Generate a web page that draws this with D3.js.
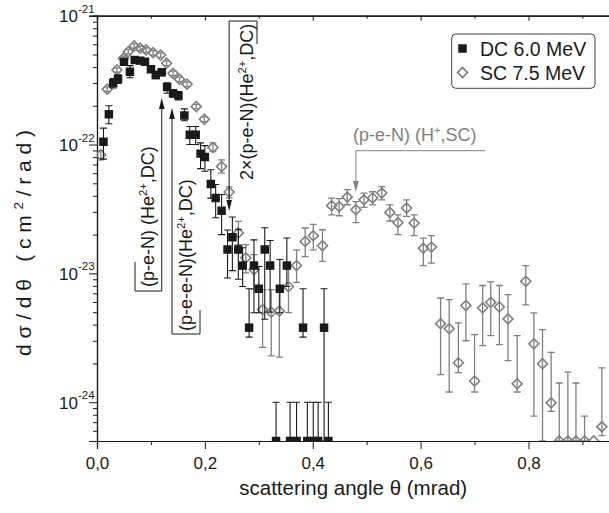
<!DOCTYPE html>
<html>
<head>
<meta charset="utf-8">
<script src="https://cdn.jsdelivr.net/npm/d3@7"></script>
<style>
  body { margin: 0; background: #fff; }
  svg { display: block; font-family: "Liberation Sans", Arial, Helvetica, sans-serif; }
</style>
</head>
<body>
<svg id="chart" width="609" height="513"></svg>
<script>
// ---- DC 6.0 MeV (He2+) : angle (mrad), dσ/dθ, error-bar low, error-bar high ----
const dcTheta = [0.012, 0.022, 0.030, 0.039, 0.050, 0.061, 0.070, 0.080, 0.089, 0.100,
                 0.109, 0.120, 0.130, 0.141, 0.151, 0.162, 0.172, 0.183, 0.192, 0.200,
                 0.211, 0.220, 0.231, 0.242, 0.251, 0.262, 0.270, 0.282, 0.291, 0.300,
                 0.311, 0.321, 0.332, 0.339, 0.352, 0.358, 0.370, 0.382, 0.390, 0.401,
                 0.410, 0.421, 0.429];
const dcValue = [1.05e-22, 1.72e-22, 2.99e-22, 3.23e-22, 4.40e-22, 3.68e-22, 4.54e-22, 4.48e-22, 4.40e-22, 3.84e-22,
                 3.47e-22, 3.64e-22, 2.79e-22, 2.50e-22, 2.40e-22, 1.68e-22, 1.19e-22, 1.19e-22, 8.5e-23, 8.0e-23,
                 4.95e-23, 3.84e-23, 3.06e-23, 1.53e-23, 1.91e-23, 1.53e-23, 1.15e-23, 3.79e-24, 1.15e-23, 7.6e-24,
                 1.53e-23, 1.15e-23, 0, 7.6e-24, 1.15e-23, 0, 0, 3.79e-24, 0, 0,
                 0, 3.79e-24, 0];
const dcLow   = [7.7e-23, 1.45e-22, 2.75e-22, 2.98e-22, 4.15e-22, 3.3e-22, 4.3e-22, 4.25e-22, 4.17e-22, 3.62e-22,
                 3.25e-22, 3.42e-22, 2.5e-22, 2.33e-22, 2.22e-22, 1.53e-22, 1.0e-22, 1.0e-22, 6.5e-23, 6.2e-23,
                 3.84e-23, 2.7e-23, 2.0e-23, 9.2e-24, 1.05e-23, 9.0e-24, 7.9e-24, 3.2e-24, 4.95e-24, 4.95e-24,
                 4.4e-24, 5.0e-24, 0, 4.95e-24, 7.9e-24, 0, 0, 3.2e-24, 0, 0,
                 0, 0, 0];
const dcHigh  = [1.34e-22, 2.0e-22, 3.25e-22, 3.48e-22, 4.65e-22, 4.1e-22, 4.8e-22, 4.72e-22, 4.63e-22, 4.06e-22,
                 3.7e-22, 3.86e-22, 3.02e-22, 2.67e-22, 2.58e-22, 1.89e-22, 1.38e-22, 1.38e-22, 1.03e-22, 9.8e-23,
                 6.37e-23, 4.9e-23, 4.1e-23, 2.17e-23, 2.74e-23, 2.2e-23, 1.58e-23, 7.6e-24, 1.82e-23, 1.13e-23,
                 2.26e-23, 1.8e-23, 1.0e-24, 1.28e-23, 1.88e-23, 1.0e-24, 1.0e-24, 7.6e-24, 1.0e-24, 1.0e-24,
                 1.0e-24, 7.6e-24, 1.0e-24];

// ---- SC 7.5 MeV (H+) ----
const scTheta = [0.007, 0.019, 0.037, 0.049, 0.058, 0.069, 0.080, 0.091, 0.104, 0.118,
                 0.129, 0.141, 0.153, 0.167, 0.184, 0.199, 0.215, 0.231, 0.245, 0.262,
                 0.276, 0.291, 0.307, 0.323, 0.338, 0.355, 0.370, 0.386, 0.401, 0.418,
                 0.435, 0.449, 0.464, 0.480, 0.495, 0.511, 0.528, 0.543, 0.558, 0.574,
                 0.588, 0.605, 0.620, 0.637, 0.653, 0.670, 0.684, 0.700, 0.715, 0.730,
                 0.746, 0.762, 0.779, 0.795, 0.810, 0.826, 0.842, 0.857, 0.873, 0.888,
                 0.904, 0.921, 0.936];
const scValue = [8.3e-23, 2.69e-22, 3.79e-22, 4.67e-22, 5.26e-22, 5.82e-22, 5.59e-22, 5.42e-22, 5.16e-22, 4.95e-22,
                 4.28e-22, 3.57e-22, 3.21e-22, 2.94e-22, 1.97e-22, 1.57e-22, 9.5e-23, 6.75e-23, 4.28e-23, 2.06e-23,
                 1.32e-23, 1.07e-23, 5.24e-24, 5.0e-24, 5.1e-24, 7.9e-24, 1.15e-23, 1.77e-23, 1.96e-23, 1.64e-23,
                 3.35e-23, 3.3e-23, 3.91e-23, 3.12e-23, 3.72e-23, 3.84e-23, 4.2e-23, 2.97e-23, 2.48e-23, 3.21e-23,
                 2.46e-23, 1.57e-23, 1.6e-23, 4.07e-24, 3.72e-24, 2.02e-24, 5.62e-24, 1.46e-24, 5.4e-24, 5.96e-24,
                 5.49e-24, 4.43e-24, 1.39e-24, 8.67e-24, 2.84e-24, 1.99e-24, 9.9e-25, 0, 0, 0,
                 0, 0, 6.45e-25];
const scLow   = [7.6e-23, 2.58e-22, 3.64e-22, 4.48e-22, 5.05e-22, 5.59e-22, 5.37e-22, 5.2e-22, 4.95e-22, 4.75e-22,
                 4.1e-22, 3.42e-22, 3.08e-22, 2.82e-22, 1.89e-22, 1.5e-22, 8.8e-23, 6.0e-23, 3.85e-23, 1.67e-23,
                 1.01e-23, 7.5e-24, 2.66e-24, 2.29e-24, 2.24e-24, 4.95e-24, 8.5e-24, 1.35e-23, 1.52e-23, 1.24e-23,
                 2.85e-23, 2.8e-23, 3.41e-23, 2.48e-23, 3.25e-23, 3.4e-23, 3.72e-23, 2.55e-23, 2.0e-23, 2.77e-23,
                 1.96e-23, 1.15e-23, 1.2e-23, 1.64e-24, 1.2e-24, 1.7e-24, 3.0e-24, 1.2e-24, 2.75e-24, 3.29e-24,
                 2.8e-24, 2.1e-24, 1.2e-24, 5.7e-24, 7.8e-25, 0, 8.5e-25, 0, 0, 0,
                 0, 0, 5.5e-25];
const scHigh  = [9.0e-23, 2.8e-22, 3.94e-22, 4.86e-22, 5.47e-22, 6.05e-22, 5.81e-22, 5.64e-22, 5.37e-22, 5.15e-22,
                 4.46e-22, 3.72e-22, 3.34e-22, 3.06e-22, 2.05e-22, 1.64e-22, 1.03e-22, 7.6e-23, 4.7e-23, 2.53e-23,
                 1.67e-23, 1.4e-23, 7.48e-24, 7.48e-24, 7.48e-24, 1.13e-23, 1.52e-23, 2.25e-23, 2.4e-23, 2.18e-23,
                 3.84e-23, 3.8e-23, 4.46e-23, 3.61e-23, 4.2e-23, 4.3e-23, 4.72e-23, 3.4e-23, 2.85e-23, 3.72e-23,
                 2.85e-23, 1.88e-23, 1.96e-23, 6.44e-24, 6.26e-24, 4.13e-24, 8.28e-24, 3.35e-24, 8.05e-24, 8.6e-24,
                 8.05e-24, 6.84e-24, 3.29e-24, 1.15e-23, 4.93e-24, 3.66e-24, 2.44e-24, 1.41e-24, 1.71e-24, 1.41e-24,
                 7.8e-25, 0, 1.85e-24];

// ---- axis ticks and labels ----
const xMajorTicks = [0, 0.2, 0.4, 0.6, 0.8];
const xMinorTicks = [0.1, 0.3, 0.5, 0.7, 0.9];
const yDecades = [-21, -22, -23, -24];
const seriesNames = ["DC 6.0 MeV", "SC 7.5 MeV"];
const xTitle = "scattering angle θ (mrad)";

const BLACK = "#1a1a1a", GREY = "#808080";

const svg = d3.select("#chart");
const x = d3.scaleLinear().domain([0, 0.95]).range([97, 609.4]);
const y = d3.scaleLog().domain([5e-25, 1e-21]).range([441, 15.7]);
const yFloor = y.domain()[0];
const yv = v => y(Math.max(v, yFloor));

const [x0, x1] = x.range();
const [yB, yT] = y.range();

svg.append("defs").append("clipPath").attr("id", "plotClip")
  .append("rect").attr("x", x0).attr("y", yT).attr("width", x1 - x0).attr("height", yB - yT);

// ---- axes ----
const fmtComma = d => d3.format(".1f")(d).replace(".", ",");

const gxb = svg.append("g").attr("transform", `translate(0,${yB})`)
  .call(d3.axisBottom(x).tickValues(xMajorTicks).tickSize(8).tickFormat(fmtComma));
gxb.selectAll("text").attr("y", 28).attr("dy", 0).attr("font-size", 17).attr("fill", BLACK)
  .attr("font-family", "Liberation Sans, Arial, sans-serif");
svg.append("g").attr("transform", `translate(0,${yB})`)
  .call(d3.axisBottom(x).tickValues(xMinorTicks).tickSize(4).tickFormat(""));

svg.append("g").attr("transform", `translate(0,${yT})`)
  .call(d3.axisTop(x).tickValues(xMajorTicks).tickSize(-5).tickFormat(""));
svg.append("g").attr("transform", `translate(0,${yT})`)
  .call(d3.axisTop(x).tickValues(xMinorTicks).tickSize(-3).tickFormat(""));

const yMajor = yDecades.map(e => Math.pow(10, e));
const yMinor = [];
yDecades.concat([-25]).forEach(e => {
  for (let m = 2; m <= 9; m++) {
    const v = m * Math.pow(10, e);
    if (v >= yFloor && v < 1e-21) yMinor.push(v);
  }
});

svg.append("g").attr("transform", `translate(${x0},0)`)
  .call(d3.axisLeft(y).tickValues(yMajor).tickSize(8).tickFormat(""));
svg.append("g").attr("transform", `translate(${x0},0)`)
  .call(d3.axisLeft(y).tickValues(yMinor).tickSize(4).tickFormat(""));

yDecades.forEach(e => {
  svg.append("text")
    .attr("x", x0 - 6 - 13).attr("y", y(Math.pow(10, e)) + 6.5)
    .attr("text-anchor", "end").attr("font-size", 17).attr("fill", BLACK).text("10");
  svg.append("text")
    .attr("x", x0 - 6 - 13).attr("y", y(Math.pow(10, e)) - 3)
    .attr("text-anchor", "start").attr("font-size", 11.5).attr("fill", BLACK)
    .text("-" + Math.abs(e));
});

svg.selectAll(".domain").attr("stroke", BLACK).attr("stroke-width", 1.2);
svg.selectAll(".tick line").attr("stroke", BLACK).attr("stroke-width", 1);

// axis titles
svg.append("text").attr("x", (x0 + x1) / 2).attr("y", 495)
  .attr("text-anchor", "middle").attr("font-size", 20.5).attr("fill", BLACK).text(xTitle);

const yt = svg.append("text").attr("transform", `translate(31,356) rotate(-90)`)
  .attr("text-anchor", "start").attr("font-size", 21).attr("fill", BLACK)
  .attr("textLength", 226).attr("lengthAdjust", "spacing");
yt.append("tspan").text("dσ/dθ (cm");
yt.append("tspan").attr("dy", -8).attr("font-size", 13.5).text("2");
yt.append("tspan").attr("dy", 8).text("/rad)");

// ---- data ----
const plot = svg.append("g").attr("clip-path", "url(#plotClip)");

function drawBars(g, th, lo, hi, color, width) {
  const idx = d3.range(th.length).filter(i => hi[i] > 0);
  const cap = 3.5;
  g.selectAll(null).data(idx).join("path")
    .attr("d", i => {
      const xx = x(th[i]), ya = yv(lo[i]), yb = y(hi[i]);
      return `M${xx},${ya}V${yb}M${xx - cap},${yb}H${xx + cap}M${xx - cap},${ya}H${xx + cap}`;
    })
    .attr("fill", "none").attr("stroke", color).attr("stroke-width", width);
}

// SC series first, DC drawn over it
const gSC = plot.append("g");
drawBars(gSC, scTheta, scLow, scHigh, GREY, 1.3);
const diamond = d3.symbol().type(d3.symbolSquare).size(50);
gSC.selectAll(null).data(d3.range(scTheta.length)).join("path")
  .attr("d", diamond)
  .attr("transform", i => `translate(${x(scTheta[i])},${yv(scValue[i])}) rotate(45)`)
  .attr("fill", "none").attr("stroke", GREY).attr("stroke-width", 1.6);

const gDC = plot.append("g");
drawBars(gDC, dcTheta, dcLow, dcHigh, BLACK, 1.1);
const square = d3.symbol().type(d3.symbolSquare).size(72);
gDC.selectAll(null).data(d3.range(dcTheta.length)).join("path")
  .attr("d", square)
  .attr("transform", i => `translate(${x(dcTheta[i])},${yv(dcValue[i])})`)
  .attr("fill", BLACK);

// ---- annotations ----
function arrowHead(px, py, dir, color) {
  // dir = -1 : pointing up, +1 : pointing down
  const len = 11, hw = 2.8;
  svg.append("path")
    .attr("d", `M${px},${py}L${px - hw},${py - dir * len}L${px + hw},${py - dir * len}Z`)
    .attr("fill", color);
}
function rotLabel(tx, ty, pre, sup, post, color, size) {
  const t = svg.append("text").attr("transform", `translate(${tx},${ty}) rotate(-90)`)
    .attr("font-size", size).attr("fill", color);
  t.append("tspan").text(pre);
  t.append("tspan").attr("dy", -7).attr("font-size", size * 0.62).text(sup);
  t.append("tspan").attr("dy", 7).text(post);
  return t;
}

const ann = svg.append("g").attr("fill", "none").attr("stroke-width", 1);

// (p-e-N)(He2+,DC)
const a1x = x(0.12);
ann.append("path").attr("d", `M135,262V291H${a1x}V108`).attr("stroke", BLACK);
arrowHead(a1x, 98, -1, BLACK);
rotLabel(153.5, 287, "(p-e-N) (He", "2+", ",DC)", BLACK, 18);

// (p-e-e-N)(He2+,DC)
const a2x = x(0.139);
ann.append("path").attr("d", `M200,310V334H${a2x}V118`).attr("stroke", BLACK);
arrowHead(a2x, 108, -1, BLACK);
rotLabel(191.5, 331, "(p-e-e-N)(He", "2+", ",DC)", BLACK, 18);

// 2×(p-e-N)(He2+,DC)
const a3x = x(0.245);
ann.append("path").attr("d", `M257,44V21H${a3x}V200`).attr("stroke", BLACK);
arrowHead(a3x, 211, 1, BLACK);
rotLabel(252.5, 180, "2×(p-e-N)(He", "2+", ",DC)", BLACK, 18);

// (p-e-N)(H+,SC)
const a4x = x(0.48);
ann.append("path").attr("d", `M485,150.7H${a4x}V182`).attr("stroke", GREY);
arrowHead(a4x, 192, 1, GREY);
const t4 = svg.append("text").attr("x", 353).attr("y", 141).attr("font-size", 18).attr("fill", GREY);
t4.append("tspan").text("(p-e-N) (H");
t4.append("tspan").attr("dy", -7).attr("font-size", 11).text("+");
t4.append("tspan").attr("dy", 7).text(",SC)");

// ---- legend ----
const lg = svg.append("g");
lg.append("rect").attr("x", 451.7).attr("y", 34).attr("width", 143.3).attr("height", 54.3)
  .attr("rx", 4).attr("fill", "#fff").attr("stroke", "#444").attr("stroke-width", 1);
lg.append("path").attr("d", square).attr("transform", "translate(462.5,48.5)").attr("fill", BLACK);
lg.append("path").attr("d", diamond).attr("transform", "translate(462.5,72.5) rotate(45)")
  .attr("fill", "none").attr("stroke", GREY).attr("stroke-width", 1.6);
lg.append("text").attr("x", 480).attr("y", 55.5).attr("font-size", 19.5).attr("fill", BLACK).text(seriesNames[0]);
lg.append("text").attr("x", 480).attr("y", 79.5).attr("font-size", 19.5).attr("fill", BLACK).text(seriesNames[1]);
</script>
</body>
</html>
